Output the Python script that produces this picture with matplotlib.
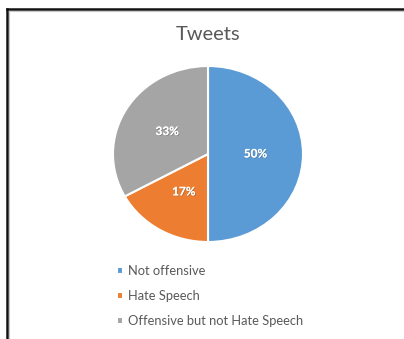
import matplotlib
matplotlib.use("Agg")
import matplotlib.pyplot as plt
import matplotlib.patheffects as pe
from matplotlib.lines import Line2D

# Data
categories = ["Not offensive", "Hate Speech", "Offensive but not Hate Speech"]
shares = [50, 17, 33]
colors = ["#5B9BD5", "#ED7D31", "#A5A5A5"]
title = "Tweets"

plt.rcParams["font.family"] = ["Lato", "DejaVu Sans"]

W, H = 404, 339
fig = plt.figure(figsize=(W / 100, H / 100), dpi=100)
fig.patch.set_facecolor("white")

# pie area (pixel box from the reference)
cx, cy, rx, ry = 208, 154, 95, 88
ax = fig.add_axes([(cx - rx) / W, 1 - (cy + ry) / H, 2 * rx / W, 2 * ry / H])

wedges, texts, autotexts = ax.pie(
    shares,
    colors=colors,
    startangle=90,
    counterclock=False,
    autopct="%.0f%%",
    pctdistance=0.5,
    wedgeprops=dict(edgecolor="white", linewidth=1.5),
    textprops=dict(color="white", fontsize=8.5, fontweight="bold"),
)
for t in autotexts:
    t.set_path_effects([pe.withSimplePatchShadow(offset=(0.6, -0.6), alpha=0.35), pe.Normal()])
ax.set_aspect("auto")
ax.set_xlim(-1, 1)
ax.set_ylim(-1, 1)
ax.axis("off")

fig.text(cx / W, 1 - 34 / H, title, ha="center", va="center", fontsize=14.5, color="#595959")

fig.legend(
    wedges, categories,
    loc="upper left",
    bbox_to_anchor=(117 / W, 1 - 265 / H),
    frameon=False,
    fontsize=9.3,
    labelcolor="#595959",
    handlelength=0.5,
    handleheight=0.5,
    handletextpad=0.35,
    labelspacing=1.0,
    borderpad=0,
    borderaxespad=0,
)

# window frame
fig.add_artist(Line2D([7 / W, 1], [1 - 8.5 / H, 1 - 8.5 / H], transform=fig.transFigure, color="#111111", lw=1.8))
fig.add_artist(Line2D([7 / W, 7 / W], [0, 1 - 8.5 / H], transform=fig.transFigure, color="#111111", lw=1.8))
fig.add_artist(Line2D([9 / W, 1], [1 - 10.5 / H, 1 - 10.5 / H], transform=fig.transFigure, color="#c8c8c8", lw=0.8))
fig.add_artist(Line2D([9 / W, 9 / W], [0, 1 - 10.5 / H], transform=fig.transFigure, color="#c8c8c8", lw=0.8))

fig.savefig("out.png", dpi=100)
